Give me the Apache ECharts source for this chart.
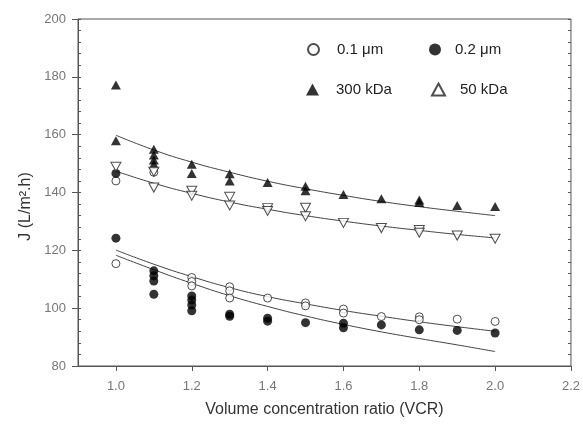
<!DOCTYPE html>
<html>
<head>
<meta charset="utf-8">
<script src="https://cdn.jsdelivr.net/npm/echarts@6/dist/echarts.min.js"></script>
<style>
  html, body { margin: 0; padding: 0; background: #fff; }
  #main { width: 583px; height: 427px; }
</style>
</head>
<body>
<div id="main"></div>
<script>
// fitted curves, read at each VCR step
var xFit = [1.0, 1.1, 1.2, 1.3, 1.4, 1.5, 1.6, 1.7, 1.8, 1.9, 2.0];
var fit300 = [159.8, 154.7, 150.5, 147.0, 143.9, 141.3, 139.0, 136.9, 135.1, 133.5, 132.0];
var fit50 = [147.4, 143.2, 139.7, 136.7, 134.2, 132.0, 130.1, 128.4, 126.9, 125.5, 124.3];
var fit01 = [120.1, 115.2, 110.9, 107.1, 104.0, 101.5, 99.2, 97.2, 95.3, 93.6, 92.0];
var fit02 = [118.3, 113.3, 108.6, 104.3, 100.6, 97.3, 94.4, 91.8, 89.5, 87.3, 85.0];

// measured points
var x300 = [1.0, 1.0, 1.1, 1.1, 1.1, 1.1, 1.2, 1.2, 1.3, 1.3, 1.4, 1.5, 1.5, 1.6, 1.7, 1.8, 1.8, 1.9, 2.0];
var j300 = [177.2, 157.9, 155.0, 153.0, 151.2, 149.8, 149.8, 146.6, 146.5, 144.0, 143.5, 142.2, 140.6, 139.3, 137.8, 137.4, 136.5, 135.5, 135.2];

var x50 = [1.0, 1.1, 1.1, 1.2, 1.2, 1.3, 1.3, 1.4, 1.4, 1.5, 1.5, 1.6, 1.7, 1.8, 1.8, 1.9, 2.0];
var j50 = [148.9, 147.2, 141.7, 140.6, 138.9, 138.5, 135.5, 134.6, 133.6, 134.7, 131.8, 129.5, 127.7, 127.0, 126.1, 125.1, 124.0];

var x01 = [1.0, 1.0, 1.1, 1.2, 1.2, 1.2, 1.3, 1.3, 1.3, 1.4, 1.5, 1.5, 1.6, 1.6, 1.7, 1.8, 1.8, 1.9, 2.0];
var j01 = [144.0, 115.4, 147.0, 110.6, 109.2, 107.7, 107.4, 106.0, 103.5, 103.5, 101.8, 100.8, 99.7, 98.3, 97.1, 97.0, 96.0, 96.2, 95.4];

var x02 = [1.0, 1.0, 1.1, 1.1, 1.1, 1.1, 1.2, 1.2, 1.2, 1.2, 1.3, 1.3, 1.4, 1.4, 1.5, 1.6, 1.6, 1.7, 1.8, 1.9, 2.0];
var j02 = [146.6, 124.2, 112.9, 111.2, 109.4, 104.8, 104.2, 102.8, 101.1, 99.1, 97.9, 97.2, 96.5, 95.5, 95.0, 94.8, 93.2, 94.2, 92.5, 92.3, 91.4];

var xTicks = [1.0, 1.2, 1.4, 1.6, 1.8, 2.0, 2.2];

function zip(xs, ys) {
  var out = [];
  for (var i = 0; i < xs.length; i++) out.push([xs[i], ys[i]]);
  return out;
}

var downTri = 'path://M0,0L10,0L5,9Z';
var lineColor = '#444';
var font = 'Liberation Sans, Arial, sans-serif';

function fitLine(ys) {
  return {
    type: 'line',
    data: zip(xFit, ys),
    smooth: true,
    showSymbol: false,
    silent: true,
    z: 1,
    lineStyle: { color: lineColor, width: 1 }
  };
}

function oneLegend(name, icon, w, h, left, top, padLeft) {
  return {
    data: [{ name: name, icon: icon }],
    left: left,
    top: top,
    padding: 0,
    itemWidth: w,
    itemHeight: h,
    selectedMode: false,
    textStyle: { fontFamily: font, fontSize: 15, color: '#222', padding: [0, 0, 0, padLeft] }
  };
}

var chart = echarts.init(document.getElementById('main'));
var option = {
  animation: false,
  backgroundColor: '#fff',
  grid: { left: 78, right: 7, top: 19, bottom: 61, show: true, borderColor: '#555', borderWidth: 1 },
  legend: [
    oneLegend('0.1 μm', 'circle', 11, 11, 307, 42, 13),
    oneLegend('0.2 μm', 'circle', 12, 12, 429, 42, 9),
    oneLegend('300 kDa', 'triangle', 13, 12, 306, 82, 12),
    oneLegend('50 kDa', 'triangle', 13, 12, 431, 82, 10)
  ],
  xAxis: {
    type: 'value',
    min: 0.9,
    max: 2.2,
    name: 'Volume concentration ratio (VCR)',
    nameLocation: 'middle',
    nameGap: 36,
    nameTextStyle: { fontFamily: font, fontSize: 16, color: '#333' },
    axisLine: { lineStyle: { color: '#555' } },
    axisTick: { customValues: xTicks, length: 5, lineStyle: { color: '#555' } },
    axisLabel: {
      customValues: xTicks,
      formatter: function (v) { return v.toFixed(1); },
      fontFamily: font, fontSize: 13, color: '#777', margin: 14
    },
    splitLine: { show: false }
  },
  yAxis: [
    {
      type: 'value',
      min: 80,
      max: 200,
      interval: 20,
      name: 'J (L/m².h)',
      nameLocation: 'middle',
      nameGap: 36,
      nameTextStyle: { fontFamily: font, fontSize: 16, color: '#333', padding: [0, 28, 0, 0] },
      axisLine: { show: true, lineStyle: { color: '#555' } },
      axisTick: { length: 6, lineStyle: { color: '#555' } },
      axisLabel: { fontFamily: font, fontSize: 13, color: '#777', margin: 12 },
      splitLine: { show: false }
    },
    {
      // minor ticks inside, left
      type: 'value', min: 80, max: 200, interval: 4, position: 'left',
      axisLine: { show: false },
      axisTick: { inside: true, length: 3, lineStyle: { color: '#555' } },
      axisLabel: { show: false },
      splitLine: { show: false }
    },
    {
      // minor ticks inside, right frame
      type: 'value', min: 80, max: 200, interval: 4, position: 'right',
      axisLine: { show: false },
      axisTick: { inside: true, length: 3, lineStyle: { color: '#555' } },
      axisLabel: { show: false },
      splitLine: { show: false }
    }
  ],
  series: [
    fitLine(fit300),
    fitLine(fit50),
    fitLine(fit01),
    fitLine(fit02),
    {
      name: '0.1 μm', type: 'scatter', data: zip(x01, j01), symbol: 'circle', symbolSize: 8, z: 3,
      itemStyle: { color: '#fff', borderColor: '#222', borderWidth: 1 }
    },
    {
      name: '0.2 μm', type: 'scatter', data: zip(x02, j02), symbol: 'circle', symbolSize: 9, z: 3,
      itemStyle: { color: '#000' }
    },
    {
      name: '300 kDa', type: 'scatter', data: zip(x300, j300), symbol: 'triangle', symbolSize: [10, 9], z: 3,
      itemStyle: { color: '#000' }
    },
    {
      name: '50 kDa', type: 'scatter', data: zip(x50, j50), symbol: downTri, symbolSize: [10, 9], z: 3,
      itemStyle: { color: '#fff', borderColor: '#222', borderWidth: 1 }
    }
  ]
};
chart.setOption(option);
</script>
</body>
</html>
